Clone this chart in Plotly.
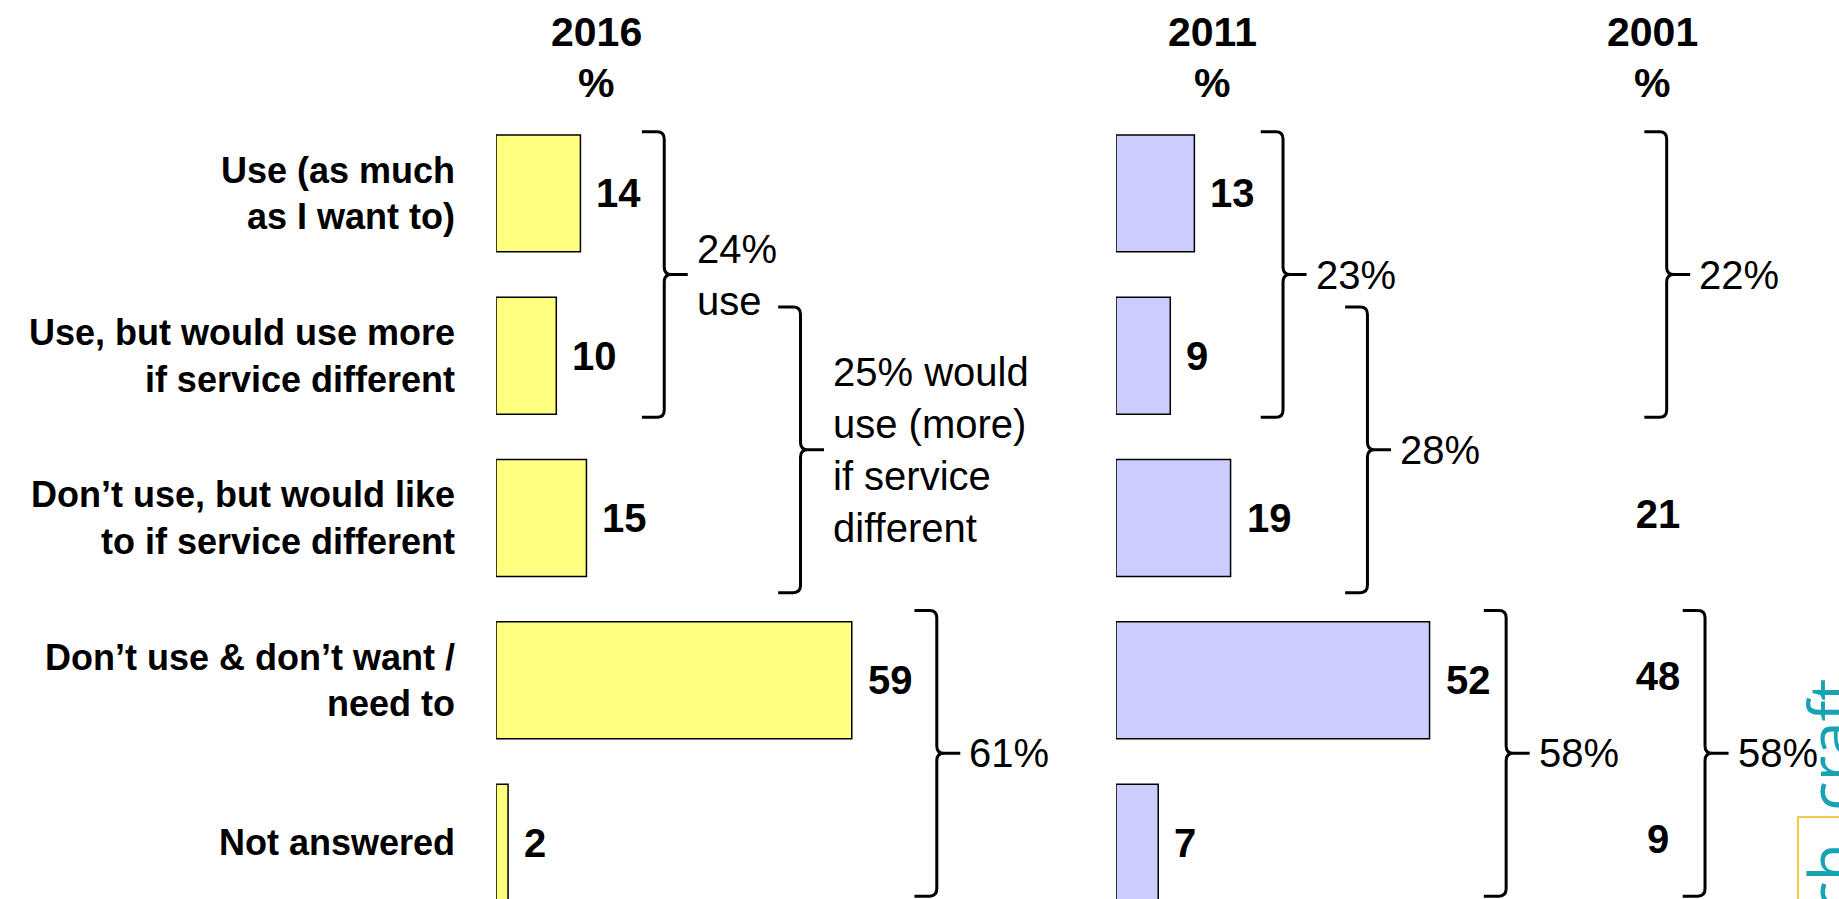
import plotly.graph_objects as go

# ---------------------------
# data
# ---------------------------
categories = [
    "Use (as much<br>as I want to)",
    "Use, but would use more<br>if service different",
    "Don’t use, but would like<br>to if service different",
    "Don’t use & don’t want /<br>need to",
    "Not answered",
]
rows = [0, 1, 2, 3, 4]
years = ["2016", "2011", "2001"]
vals_2016 = [14, 10, 15, 59, 2]
vals_2011 = [13, 9, 19, 52, 7]
vals_2001 = [None, None, 21, 48, 9]

# grouped totals: first row, last row, label
groups_2016 = [(0, 1, "24%<br>use"),
               (1, 2, "25% would<br>use (more)<br>if service<br>different"),
               (3, 4, "61%")]
groups_2011 = [(0, 1, "23%"), (1, 2, "28%"), (3, 4, "58%")]
groups_2001 = [(0, 1, "22%"), (3, 4, "58%")]

# ---------------------------
# geometry / style
# ---------------------------
W, H = 1839, 899
PX_UNIT = 6.03          # pixels per percentage point
FONT = "Liberation Sans, Arial, sans-serif"
YELLOW = "#FFFF80"
LILAC = "#CCCCFF"

# braces: x of vertical stroke (axis units), shift of the whole brace (rows)
brace_x = {"x": [27.9, 50.5, 73.1], "x2": [27.7, 41.7, 64.7], "x3": [1.44, 7.8]}
brace_dy = [0.0, 0.08, -0.05]
brace_dy_2001 = [0.0, -0.05]


def dom(px0, px1):
    return [px0 / W, px1 / W]


def rng(px0, px1, zero_px):
    return [(px0 - zero_px) / PX_UNIT, (px1 - zero_px) / PX_UNIT]


def brace_path(xv, top, bot, ry=0.045, rx=1.2):
    xh = xv - 3.7
    xt = xv + 3.9
    mid = (top + bot) / 2
    return (f"M{xh},{top} L{xv - rx},{top} Q{xv},{top} {xv},{top + ry} "
            f"L{xv},{mid - ry} Q{xv},{mid} {xv + rx},{mid} L{xt},{mid} "
            f"M{xv + rx},{mid} Q{xv},{mid} {xv},{mid + ry} "
            f"L{xv},{bot - ry} Q{xv},{bot} {xv - rx},{bot} L{xh},{bot}")


fig = go.Figure()

# ---------------------------
# bars
# ---------------------------
fig.add_trace(go.Bar(
    y=rows, x=vals_2016, orientation="h", width=0.72,
    marker=dict(color=YELLOW, line=dict(color="black", width=1.5)),
    xaxis="x", yaxis="y", name="2016"
))
fig.add_trace(go.Bar(
    y=rows, x=vals_2011, orientation="h", width=0.72,
    marker=dict(color=LILAC, line=dict(color="black", width=1.5)),
    xaxis="x2", yaxis="y", name="2011"
))
# 2001: numbers only
fig.add_trace(go.Scatter(
    y=rows, x=[0 if v is not None else None for v in vals_2001],
    text=[str(v) if v is not None else "" for v in vals_2001],
    mode="text", textposition="middle center",
    textfont=dict(family=FONT, size=40, color="black", weight="bold"),
    xaxis="x3", yaxis="y", name="2001"
))

annotations = []

# value labels
for axis, vals in (("x", vals_2016), ("x2", vals_2011)):
    for r, v in zip(rows, vals):
        annotations.append(dict(
            x=v, y=r, xref=axis, yref="y", text=str(v), showarrow=False,
            xanchor="left", yanchor="middle", xshift=14,
            font=dict(family=FONT, size=40, color="black", weight="bold")
        ))

# year headers
for yr, xpx in zip(years, [596, 1212, 1652]):
    for txt, ypx in ((yr, 32), ("%", 83)):
        annotations.append(dict(
            x=xpx / W, y=1 - ypx / H, xref="paper", yref="paper",
            text=txt, showarrow=False, xanchor="center", yanchor="middle",
            font=dict(family=FONT, size=41, color="black", weight="bold")
        ))

# ---------------------------
# braces
# ---------------------------
shapes = []
for axis, groups, dys in (("x", groups_2016, brace_dy),
                          ("x2", groups_2011, brace_dy),
                          ("x3", groups_2001, brace_dy_2001)):
    for (r0, r1, label), xv, dy in zip(groups, brace_x[axis], dys):
        top = r0 - 0.38 + dy
        bot = r1 + 0.38 + dy
        shapes.append(dict(
            type="path", xref=axis, yref="y", path=brace_path(xv, top, bot),
            line=dict(color="black", width=3)
        ))
        annotations.append(dict(
            x=xv + 3.9, y=(top + bot) / 2, xref=axis, yref="y", text=label,
            showarrow=False, xanchor="left", yanchor="middle", align="left",
            xshift=7, font=dict(family=FONT, size=40, color="black")
        ))

# logo (partly cut off at the edge)
annotations.append(dict(
    x=1786 / W, y=1 - 677 / H, xref="paper", yref="paper",
    text="ch  craft", textangle=-90, showarrow=False,
    xanchor="left", yanchor="top",
    font=dict(family="Open Sans, sans-serif", size=62, color="#17A3B4")
))
shapes.append(dict(
    type="rect", xref="paper", yref="paper",
    x0=1798 / W, x1=1.05, y0=-0.05, y1=1 - 817 / H,
    line=dict(color="#F2C94C", width=2)
))

# ---------------------------
# layout
# ---------------------------
hidden = dict(visible=False, fixedrange=True)
fig.update_layout(
    width=W, height=H,
    margin=dict(l=0, r=0, t=0, b=0),
    paper_bgcolor="white", plot_bgcolor="rgba(0,0,0,0)",
    showlegend=False,
    font=dict(family=FONT, color="black"),
    xaxis=dict(domain=dom(496, 1100), range=rng(496, 1100, 496), anchor="y", **hidden),
    xaxis2=dict(domain=dom(1116, 1600), range=rng(1116, 1600, 1116), anchor="y", **hidden),
    xaxis3=dict(domain=dom(1600, 1839), range=rng(1600, 1839, 1658), anchor="y", **hidden),
    yaxis=dict(
        domain=[0, 1], range=[4.3475, -1.1916], anchor="x",
        tickvals=rows, ticktext=categories, ticks="",
        showgrid=False, zeroline=False, showline=False,
        ticklabelstandoff=40, fixedrange=True,
        tickfont=dict(family=FONT, size=36, color="black", weight="bold")
    ),
    annotations=annotations,
    shapes=shapes,
)

fig.write_html("out.html", config={"displayModeBar": False},
               post_script="document.body.style.margin='0';")
